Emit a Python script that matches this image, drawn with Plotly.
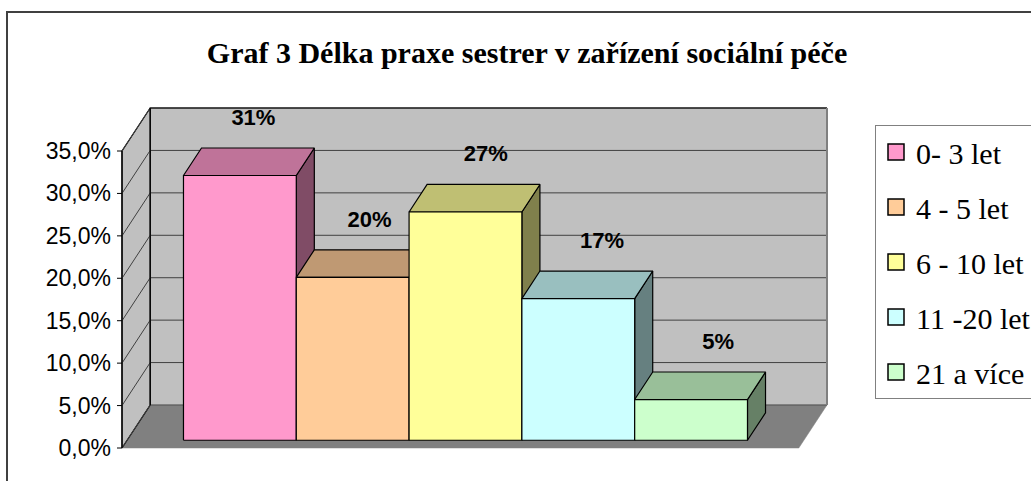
import plotly.graph_objects as go

# ---------------- data ----------------
CATEGORIES = ["0- 3 let", "4 - 5 let", "6 - 10 let", "11 -20 let", "21 a více"]
VALUES = [31.2, 19.2, 26.9, 16.7, 4.8]
LABELS = ["31%", "20%", "27%", "17%", "5%"]
TICKS = [0, 5, 10, 15, 20, 25, 30, 35]
TICK_LABELS = ["0,0%", "5,0%", "10,0%", "15,0%", "20,0%", "25,0%", "30,0%", "35,0%"]
TITLE = "Graf 3 Délka praxe sestrer v zařízení sociální péče"

# ---------------- style ----------------
COLORS = [(255, 153, 204), (255, 204, 153), (255, 255, 153), (204, 255, 255), (204, 255, 204)]
W, H = 1031, 481
PXU = 112.8        # px per x unit
PYU = 8.486        # px per percent
X0PX, Y0PX = 122, 448
DX = 0.25          # depth offset in x units
DY = 43 / PYU      # depth offset in percent units
F1, F2 = 0.18, 0.82  # bar front/back depth fractions
PAD = 6
YMAX = TICKS[-1]
XLEFT, XRIGHT = -1.0, len(CATEGORIES)

ml = X0PX - PAD
pw = (XRIGHT - XLEFT + DX) * PXU + 2 * PAD
mr = W - ml - pw
ph = (YMAX + DY) * PYU + 2 * PAD
mt = Y0PX - (YMAX + DY) * PYU - PAD
mb = H - mt - ph


def rgb(c, k=1.0):
    return "rgb(%d,%d,%d)" % tuple(round(v * k) for v in c)


fig = go.Figure()


def poly(xs, ys, fill, line="black", lw=1.2):
    fig.add_trace(go.Scatter(x=xs + [xs[0]], y=ys + [ys[0]], mode="lines", fill="toself",
                             fillcolor=fill, line=dict(color=line, width=lw),
                             hoverinfo="skip", showlegend=False))


def seg(xs, ys, color, lw=1.0):
    fig.add_trace(go.Scatter(x=xs, y=ys, mode="lines", line=dict(color=color, width=lw),
                             hoverinfo="skip", showlegend=False))


# floor
poly([XLEFT, XRIGHT, XRIGHT + DX, XLEFT + DX], [0, 0, DY, DY], "#808080", line="#808080", lw=0.5)
# back wall
poly([XLEFT + DX, XRIGHT + DX, XRIGHT + DX, XLEFT + DX], [DY, DY, YMAX + DY, YMAX + DY], "#C0C0C0", line="#C0C0C0", lw=0.5)
# left wall
poly([XLEFT, XLEFT + DX, XLEFT + DX, XLEFT], [0, DY, YMAX + DY, YMAX], "#C0C0C0", line="black", lw=1.2)
# gridlines
for t in TICKS:
    seg([XLEFT, XLEFT + DX, XRIGHT + DX], [t, t + DY, t + DY], "#404040", 1.0)
    seg([XLEFT - 5 / PXU, XLEFT], [t, t], "black", 1.0)
# wall edges
seg([XLEFT + DX, XLEFT + DX, XRIGHT + DX], [DY, YMAX + DY, YMAX + DY], "black", 1.2)
seg([XRIGHT + DX, XRIGHT + DX], [DY, YMAX + DY], "#808080", 2.0)
seg([XLEFT, XLEFT], [0, YMAX], "black", 1.2)

# bars
for i, (v, c) in enumerate(zip(VALUES, COLORS)):
    x0, x1 = i - 0.5, i + 0.5
    a1, b1 = F1 * DX, F1 * DY
    a2, b2 = F2 * DX, F2 * DY
    # side
    poly([x1 + a1, x1 + a2, x1 + a2, x1 + a1], [b1, b2, v + b2, v + b1], rgb(c, 0.5))
    # top
    poly([x0 + a1, x1 + a1, x1 + a2, x0 + a2], [v + b1, v + b1, v + b2, v + b2], rgb(c, 0.75))
    # front
    poly([x0 + a1, x1 + a1, x1 + a1, x0 + a1], [b1, b1, v + b1, v + b1], rgb(c))

# data labels
fig.add_trace(go.Scatter(
    x=[i + F1 * DX + 0.12 + 0.03 * i for i in range(len(VALUES))],
    y=[v + F1 * DY + 6.6 for v in VALUES],
    mode="text", text=LABELS, textposition="middle center",
    textfont=dict(family="Liberation Sans", size=22, color="black", weight="bold"),
    cliponaxis=False, hoverinfo="skip", showlegend=False))

# legend entries
for i, (name, c) in enumerate(zip(CATEGORIES, COLORS)):
    fig.add_trace(go.Scatter(x=[None], y=[None], mode="markers", name=name, legendgroup=str(i),
                             marker=dict(symbol="square", size=16, color=rgb(c),
                                         line=dict(color="black", width=1.5))))

fig.update_layout(
    width=W, height=H,
    margin=dict(l=ml, r=mr, t=mt, b=mb, autoexpand=False),
    paper_bgcolor="white", plot_bgcolor="white",
    title=dict(text=TITLE, x=527 / W, xref="container", xanchor="center",
               y=1 - 52 / H, yref="container", yanchor="middle",
               font=dict(family="Liberation Serif", size=30, color="black", weight="bold")),
    xaxis=dict(range=[XLEFT - PAD / PXU, XRIGHT + DX + PAD / PXU], showgrid=False, zeroline=False,
               showticklabels=False, ticks="", fixedrange=True),
    yaxis=dict(range=[-PAD / PYU, YMAX + DY + PAD / PYU], showgrid=False, zeroline=False,
               tickvals=TICKS, ticktext=TICK_LABELS, ticks="", ticklabelstandoff=4,
               tickfont=dict(family="Liberation Sans", size=23, color="black"), fixedrange=True),
    legend=dict(x=(875 - ml) / pw, xanchor="left", y=(H - mb - 125) / ph, yanchor="top",
                bgcolor="white", bordercolor="#808080", borderwidth=1,
                font=dict(family="Liberation Serif", size=30, color="black"),
                tracegroupgap=13, itemsizing="trace"),
    showlegend=True,
    shapes=[dict(type="rect", xref="paper", yref="paper",
                 x0=(7 - ml) / pw, x1=(W + 20 - ml) / pw,
                 y0=(H - mb - (H + 20)) / ph, y1=(H - mb - 12) / ph,
                 line=dict(color="#404040", width=2), layer="below")],
)

fig.write_html("out.html")
